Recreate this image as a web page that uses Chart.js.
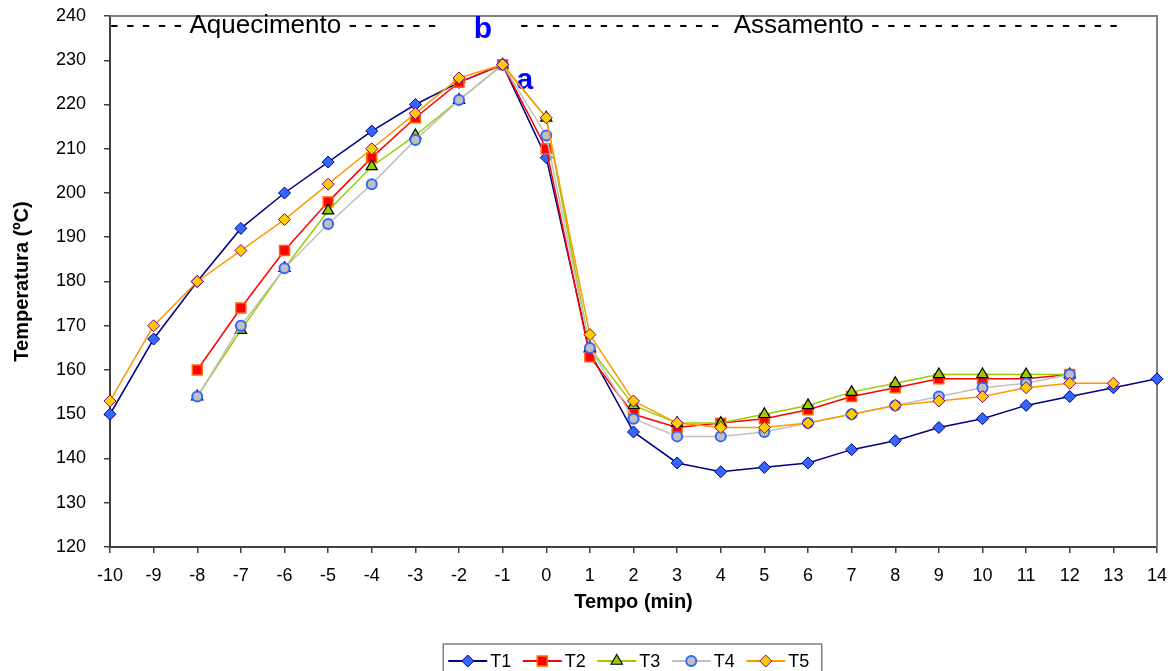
<!DOCTYPE html>
<html><head><meta charset="utf-8">
<script src="https://cdn.jsdelivr.net/npm/chart.js@4.4.0/dist/chart.umd.min.js"></script>
<style>html,body{margin:0;padding:0;background:#fff;}#wrap{width:1175px;height:671px;}</style>
</head><body><div id="wrap"><canvas id="c" width="1175" height="671"></canvas></div>
<script>
// ---- data ----
const categories = [-10,-9,-8,-7,-6,-5,-4,-3,-2,-1,0,1,2,3,4,5,6,7,8,9,10,11,12,13,14];
const T1 = [150,167,180,192,200,207,214,220,225,229,208,164,146,139,137,138,139,142,144,147,149,152,154,156,158];
const T2 = [null,null,160,174,187,198,208,217,225,229,210,163,150,147,148,149,151,154,156,158,158,158,159,null,null];
const T3 = [null,null,154,169,183,196,206,213,221,229,217,165,152,148,148,150,152,155,157,159,159,159,159,null,null];
const T4 = [null,null,154,170,183,193,202,212,221,229,213,165,149,145,145,146,148,150,152,154,156,157,159,null,null];
const T5 = [153,170,180,187,194,202,210,218,226,229,217,168,153,148,147,147,148,150,152,153,154,156,157,157,null];
const seriesNames = ['T1','T2','T3','T4','T5'];
const yMin = 120, yMax = 240, yStep = 10;
const xTitle = 'Tempo (min)';
const yTitle = 'Temperatura (ºC)';
// phase annotations: [text, x, y, align, style]
const notes = [
  ['- - - - - Aquecimento - - - - - -', -10, 236.2, 'left', 'phase'],
  ['- - - - - - - - - - - - -  Assamento - - - - - - - - - - - - - - - -', -0.6, 236.2, 'left', 'phase'],
  ['b', -1.45, 235.0, 'center', 'mark'],
  ['a', -0.49, 223.5, 'center', 'mark']
];

const FONT = "'Liberation Sans', Arial, sans-serif";
const styles = [
  {line:'#000080', fill:'#3366FF', border:'#000080', shape:'rectRot', r:6, bw:1, lw:1.5},
  {line:'#FF0000', fill:'#FF0000', border:'#FF6600', shape:'rect', r:7, bw:1.5, lw:1.5},
  {line:'#99CC00', fill:'#99CC00', border:'#000000', shape:'triangle', r:6.5, bw:1.2, lw:1.5},
  {line:'#C0C0C0', fill:'#C0C0C0', border:'#3366FF', shape:'circle', r:5, bw:2, lw:1.5},
  {line:'#FF9900', fill:'#FFCC00', border:'#800080', shape:'rectRot', r:6, bw:1, lw:1.5}
];
const allSeries = [T1,T2,T3,T4,T5];
const datasets = allSeries.map((s,k)=>({
  label: seriesNames[k],
  data: s.map((v,i)=>({x:categories[i], y:v})),
  borderColor: styles[k].line,
  borderWidth: styles[k].lw,
  backgroundColor: styles[k].fill,
  pointBackgroundColor: styles[k].fill,
  pointBorderColor: styles[k].border,
  pointBorderWidth: styles[k].bw,
  pointStyle: styles[k].shape,
  pointRadius: styles[k].r,
  pointHoverRadius: styles[k].r,
  tension: 0,
  spanGaps: false,
  clip: false,
  order: 5 - k
}));

const deco = {
  id: 'deco',
  beforeDatasetsDraw(chart){
    const {ctx, chartArea:a} = chart;
    ctx.save();
    ctx.strokeStyle = '#808080'; ctx.lineWidth = 2;
    ctx.beginPath();
    ctx.moveTo(a.left, a.top); ctx.lineTo(a.right, a.top); ctx.lineTo(a.right, a.bottom);
    ctx.stroke();
    const xs = chart.scales.x, ys = chart.scales.y;
    notes.forEach(([t,x,y,al,st])=>{
      if (st==='phase'){ ctx.font = '26px ' + FONT; ctx.fillStyle = '#000'; }
      else { ctx.font = 'bold 30px ' + FONT; ctx.fillStyle = '#0000FF'; }
      ctx.textAlign = al; ctx.textBaseline = 'alphabetic';
      ctx.fillText(t, xs.getPixelForValue(x), ys.getPixelForValue(y));
    });
    ctx.restore();
  },
  afterDraw(chart){
    const {ctx, chartArea:a} = chart;
    ctx.save();
    const cx = (a.left + a.right)/2;
    const itemW = 74.5, lineW = 39;
    const startX = cx - itemW*5/2 + 1;
    const ly = a.bottom + 114;
    ctx.strokeStyle = '#808080'; ctx.lineWidth = 1.5;
    ctx.strokeRect(startX - 5, a.bottom + 97, itemW*5 + 6, 40);
    ctx.font = '18px ' + FONT; ctx.textBaseline = 'middle'; ctx.textAlign = 'left';
    styles.forEach((s,k)=>{
      const x0 = startX + k*itemW;
      ctx.strokeStyle = s.line; ctx.lineWidth = 2;
      ctx.beginPath(); ctx.moveTo(x0, ly); ctx.lineTo(x0+lineW, ly); ctx.stroke();
      ctx.fillStyle = s.fill; ctx.strokeStyle = s.border; ctx.lineWidth = s.bw;
      Chart.helpers.drawPoint(ctx, {pointStyle:s.shape, radius:s.r, borderWidth:s.bw}, x0+lineW/2, ly);
      ctx.fillStyle = '#000';
      ctx.fillText(seriesNames[k], x0+lineW+3, ly+1);
    });
    ctx.restore();
  }
};

new Chart(document.getElementById('c'), {
  type: 'line',
  data: { datasets },
  plugins: [deco],
  options: {
    responsive: false, animation: false, devicePixelRatio: 1,
    layout: { padding: { left: 0, right: 18, top: 16, bottom: 0 } },
    plugins: { legend: { display: false }, tooltip: { enabled: false } },
    scales: {
      x: {
        type: 'linear', min: categories[0], max: categories[categories.length-1],
        afterFit(s){ s.height = 124; s.paddingLeft = 0; s.paddingRight = 0; },
        ticks: { stepSize: 1, maxTicksLimit: 40, autoSkip: false, maxRotation: 0, padding: 12,
                 color: '#000', font: { family: FONT, size: 18 } },
        grid: { drawOnChartArea: false, drawTicks: true, tickLength: 6, color: '#404040', lineWidth: 1.5 },
        border: { display: true, color: '#404040', width: 2 },
        title: { display: true, text: xTitle, color: '#000', font: { family: FONT, size: 20, weight: 'bold' },
                 padding: { top: 0, bottom: 57 } }
      },
      y: {
        min: yMin, max: yMax,
        afterFit(s){ s.width = 110; s.paddingTop = 0; s.paddingBottom = 0; },
        ticks: { stepSize: yStep, padding: 18, color: '#000', font: { family: FONT, size: 18 } },
        grid: { drawOnChartArea: false, drawTicks: true, tickLength: 6, color: '#404040', lineWidth: 1.5 },
        border: { display: true, color: '#404040', width: 2 },
        title: { display: true, text: yTitle, color: '#000', font: { family: FONT, size: 20, weight: 'bold' },
                 padding: { top: 10, bottom: 0 } }
      }
    }
  }
});
</script></body></html>
